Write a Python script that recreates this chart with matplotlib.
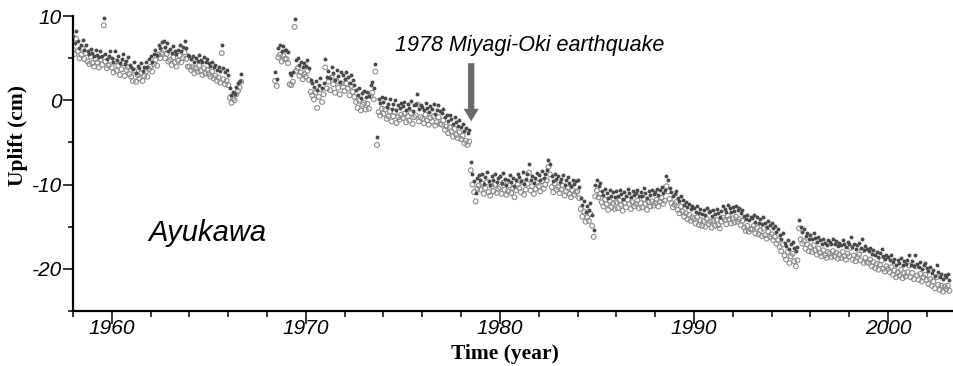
import numpy as np
import matplotlib
matplotlib.use("Agg")
import matplotlib.pyplot as plt
from matplotlib.ticker import MultipleLocator

plt.rcParams["axes.unicode_minus"] = False

# monthly uplift at Ayukawa (cm); first block starts Jan 1958, second Jun 1968
start_a = 1958.0
start_b = 1968.0 + 5 / 12

dots_a = [
    7.6, 6.8, 8.2, 7.0, 6.2, 6.5, 7.1, 6.0, 6.6, 5.8, 5.5, 6.1,
    5.6, 5.2, 6.0, 5.4, 5.1, 5.9, 5.3, 9.8, 5.5, 4.9, 5.2, 5.8,
    5.0, 4.6, 5.8, 4.8, 5.2, 4.4, 4.9, 5.5, 4.3, 4.7, 5.1, 4.2,
    4.0, 3.7, 4.6, 3.2, 4.1, 3.8, 4.4, 3.5, 3.9, 4.5, 4.0, 4.9,
    5.2, 4.6, 5.5, 6.0, 5.4, 6.6, 6.2, 6.9, 7.0, 6.3, 6.8, 5.9,
    6.1, 5.6, 6.4, 5.8, 5.5, 6.0, 6.6, 5.9, 6.3, 7.0, 6.2, 5.4,
    5.3, 4.9, 5.2, 4.6, 5.0, 4.7, 5.4, 4.8, 4.5, 5.1, 4.6, 4.9,
    4.4, 4.1, 4.6, 3.9, 4.2, 3.6, 4.0, 3.5, 6.5, 3.8, 3.3, 3.6,
    3.0, 1.4, 0.6, 1.0, 0.8, 1.6, 2.0, 2.3, 3.1,
]
rings_a = [
    6.0, 5.5, 7.3, 5.8, 5.0, 5.4, 6.1, 4.9, 5.6, 4.6, 4.3, 5.2,
    4.4, 4.0, 4.9, 4.5, 3.9, 4.8, 4.2, 8.9, 4.6, 3.8, 4.1, 4.7,
    3.9, 3.3, 4.6, 3.5, 4.1, 3.0, 3.7, 4.4, 2.9, 3.6, 3.9, 3.1,
    2.8, 2.3, 3.5, 2.2, 3.0, 2.6, 3.2, 2.3, 2.9, 3.4, 2.8, 3.7,
    4.0, 3.4, 4.3, 4.8, 4.1, 5.4, 5.0, 5.6, 5.9, 5.0, 5.5, 4.6,
    4.8, 4.2, 5.1, 4.5, 4.0, 4.7, 5.3, 4.5, 5.0, 5.7, 4.9, 4.0,
    4.0, 3.6, 3.9, 3.2, 3.8, 3.4, 4.1, 3.5, 3.0, 3.8, 3.2, 3.6,
    3.1, 2.8, 3.4, 2.6, 2.9, 2.3, 2.7, 2.1, 5.6, 2.5, 1.9, 2.3,
    1.8, 0.3, -0.3, 0.2, 0.0, 0.7, 1.1, 1.5, 2.2,
]

dots_b = [
    3.3, 2.5, 6.2, 6.6, 5.8, 6.4, 6.0,
    6.0, 5.7, 3.2, 3.0, 3.4, 9.6, 4.8, 5.0, 4.2, 4.6, 3.9, 4.4,
    4.1, 4.8, 3.8, 2.4, 2.0, 1.6, 2.3, 1.2, 1.8, 2.6, 1.4, 2.1,
    4.9, 2.8, 3.5, 2.6, 3.9, 3.2, 2.4, 3.6, 2.9, 2.2, 3.4, 3.0,
    2.5, 3.3, 2.8, 2.1, 3.0, 2.4, 1.8, 1.2, 0.6, 1.4, 0.3, 0.9,
    1.1, 0.4, 1.0, 0.5, 1.8, 2.2, 1.4, 4.3, -4.3, 0.1, -0.3, 0.4,
    -0.2, 0.3, -0.8, -0.4, 0.1, -1.0, -0.5, 0.0, -1.2, -0.6, -0.9, -0.3,
    -0.7, -0.2, -1.1, -0.5, -0.9, -0.1, -1.3, -0.6, -0.4, 0.8, -1.0, -0.6,
    -0.8, -1.2, -0.3, -0.9, -1.4, -0.7, -1.0, -0.5, -1.6, -1.1, -0.6, -1.3,
    -1.5, -1.0, -2.0, -1.7, -2.4, -1.8, -2.2, -2.8, -2.0, -2.6, -3.0, -2.3,
    -3.2, -2.8, -3.6, -3.3, -3.9, -3.5, -7.3, -8.8, -9.6, -11.0, -9.2, -8.9,
    -9.4, -8.7, -9.9, -9.1, -8.5, -9.6, -10.1, -9.0, -9.5, -8.8, -9.7, -9.2,
    -9.0, -9.8, -8.6, -9.3, -10.0, -9.5, -8.9, -9.7, -9.2, -10.2, -9.4, -8.8,
    -9.1, -9.6, -8.5, -9.9, -9.3, -8.7, -7.5, -9.4, -9.0, -9.8, -9.2, -8.6,
    -8.9, -9.5, -8.4, -9.2, -8.8, -8.3, -7.1, -7.6, -9.0, -9.6, -8.7, -9.3,
    -9.0, -9.7, -9.3, -8.9, -10.0, -9.5, -9.1, -9.8, -10.2, -9.4, -9.9, -9.6,
    -9.5, -10.3, -11.6, -12.4, -11.9, -13.2, -12.6, -13.0, -12.2, -13.6, -15.4, -10.1,
    -9.4, -10.2, -9.8, -10.8, -11.2, -10.5, -11.0, -11.6, -10.7, -11.3, -10.9, -11.5,
    -10.8, -11.4, -10.6, -11.1, -11.7, -10.9, -11.3, -10.5, -11.0, -11.5, -10.8, -11.2,
    -11.0, -10.6, -11.4, -10.9, -11.3, -10.4, -11.0, -11.6, -10.8, -11.2, -10.7, -11.1,
    -10.9, -10.5, -11.2, -10.7, -10.3, -11.0, -10.6, -9.0, -9.5, -10.4, -10.9, -11.3,
    -11.1, -10.8, -11.6, -12.0, -11.3, -11.8, -12.4, -12.1, -12.7, -12.3, -12.9, -12.5,
    -12.8, -13.2, -12.6, -13.4, -12.9, -13.5, -13.0, -13.6, -12.8, -13.3, -13.1, -13.7,
    -13.0, -13.5, -12.9, -13.4, -13.8, -13.1, -12.6, -12.9, -13.3, -12.4, -12.8, -13.2,
    -12.7, -13.1, -12.5, -13.0, -12.8, -13.4, -13.0, -13.7, -14.1, -13.6, -14.2, -13.9,
    -14.0, -13.6, -14.4, -13.8, -14.5, -14.1, -14.7, -13.9, -14.6, -15.0, -14.3, -14.8,
    -14.6, -15.2, -14.9, -15.6, -15.3, -16.0, -16.4, -15.8, -16.9, -17.3, -16.6, -17.6,
    -17.0, -16.8, -17.5, -17.9, -17.4, -14.2, -15.0, -15.6, -15.3, -16.1, -15.7, -16.4,
    -16.0, -16.5, -15.8, -16.3, -16.8, -16.2, -16.6, -17.0, -16.4, -16.9, -17.2, -16.6,
    -16.8, -17.1, -16.5, -17.0, -16.7, -17.3, -16.9, -17.2, -16.6, -17.0, -17.4, -16.8,
    -17.1, -16.2, -17.4, -17.0, -17.6, -17.2, -16.9, -17.5, -16.4, -17.8, -17.3, -17.7,
    -17.9, -17.5, -18.2, -17.8, -18.4, -18.0, -18.6, -18.1, -17.6, -18.5, -18.8, -18.3,
    -18.6, -18.9, -18.4, -19.2, -18.8, -19.5, -19.0, -19.3, -18.7, -19.6, -19.1, -19.4,
    -19.0, -18.3, -19.5, -19.1, -19.7, -18.3, -19.4, -19.8, -19.2, -20.0, -19.6, -19.3,
    -19.9, -20.3, -19.8, -20.5, -20.1, -20.8, -19.6, -20.4, -21.0, -20.6, -21.2, -20.7,
    -21.0, -20.6, -21.3,
]
rings_b = [
    2.3, 1.7, 5.1, 5.4, 4.6, 5.3, 4.9,
    4.9, 4.4, 1.9, 1.8, 2.2, 8.7, 3.5, 3.8, 2.9, 3.3, 2.5, 3.1,
    2.8, 3.5, 2.4, 1.0, 0.6, 0.1, 0.9, -0.9, 0.4, 1.3, -0.2, 0.7,
    3.9, 1.4, 2.2, 1.2, 2.7, 1.9, 0.9, 2.3, 1.5, 0.7, 2.0, 1.6,
    1.1, 2.0, 1.4, 0.6, 1.7, 1.0, 0.4, -0.2, -0.9, 0.0, -1.2, -0.5,
    -0.3, -1.1, -0.4, -1.0, 0.5, 0.9, 0.1, 3.4, -5.3, -1.4, -1.8, -1.0,
    -1.6, -1.1, -2.2, -1.9, -1.3, -2.5, -1.9, -1.4, -2.7, -2.0, -2.3, -1.7,
    -2.1, -1.6, -2.6, -1.9, -2.4, -1.5, -2.8, -2.0, -1.8, -0.5, -2.5, -2.0,
    -2.2, -2.7, -1.7, -2.4, -2.9, -2.1, -2.5, -1.9, -3.0, -2.6, -2.0, -2.8,
    -2.9, -2.4, -3.5, -3.1, -3.9, -3.2, -3.7, -4.3, -3.4, -4.1, -4.5, -3.8,
    -4.6, -4.2, -5.1, -4.8, -5.3, -4.9, -8.3, -10.0, -10.9, -12.0, -10.5, -10.1,
    -10.6, -9.9, -11.1, -10.4, -9.7, -10.9, -11.3, -10.2, -10.8, -10.0, -11.0, -10.5,
    -10.3, -11.1, -9.8, -10.6, -11.2, -10.8, -10.1, -11.0, -10.4, -11.5, -10.7, -10.0,
    -10.4, -10.9, -9.7, -11.2, -10.6, -9.9, -8.6, -10.7, -10.2, -11.1, -10.5, -9.8,
    -10.2, -10.8, -9.6, -10.5, -10.0, -9.5, -7.9, -8.8, -10.3, -10.9, -9.9, -10.6,
    -10.3, -11.0, -10.6, -10.1, -11.3, -10.8, -10.4, -11.1, -11.5, -10.7, -11.2, -10.9,
    -10.8, -11.6, -12.9, -13.8, -13.2, -14.4, -13.9, -14.3, -13.5, -14.9, -16.2, -11.4,
    -10.7, -11.5, -11.1, -12.1, -12.6, -11.8, -12.3, -13.0, -12.0, -12.7, -12.2, -12.9,
    -12.1, -12.8, -11.9, -12.4, -13.1, -12.2, -12.7, -11.8, -12.3, -12.9, -12.1, -12.6,
    -12.3, -11.9, -12.8, -12.2, -12.7, -11.7, -12.3, -13.0, -12.1, -12.6, -12.0, -12.5,
    -12.2, -11.8, -12.6, -12.0, -11.6, -12.3, -11.9, -10.2, -10.8, -11.7, -12.2, -12.7,
    -12.4, -12.1, -13.0, -13.4, -12.6, -13.2, -13.8, -13.4, -14.1, -13.6, -14.3, -13.9,
    -14.1, -14.6, -13.9, -14.8, -14.2, -14.9, -14.3, -15.0, -14.1, -14.7, -14.4, -15.1,
    -14.3, -14.9, -14.2, -14.8, -15.2, -14.4, -13.9, -14.2, -14.7, -13.7, -14.1, -14.6,
    -14.0, -14.5, -13.8, -14.4, -14.1, -14.8, -14.3, -15.1, -15.5, -14.9, -15.6, -15.3,
    -15.3, -14.9, -15.8, -15.1, -15.9, -15.4, -16.1, -15.2, -16.0, -16.4, -15.6, -16.2,
    -15.9, -16.6, -16.2, -17.0, -16.6, -17.4, -17.9, -17.1, -18.4, -18.9, -18.0, -19.3,
    -18.5, -18.2, -19.1, -19.7, -19.0, -15.2, -16.5, -17.0, -16.7, -17.6, -17.1, -17.9,
    -17.4, -18.0, -17.2, -17.8, -18.3, -17.6, -18.1, -18.5, -17.8, -18.4, -18.7, -18.0,
    -18.2, -18.6, -17.9, -18.5, -18.1, -18.8, -18.3, -18.7, -18.0, -18.5, -18.9, -18.2,
    -18.5, -17.5, -18.9, -18.4, -19.1, -18.6, -18.3, -19.0, -17.8, -19.3, -18.7, -19.2,
    -19.3, -18.9, -19.7, -19.2, -19.9, -19.4, -20.1, -19.5, -19.0, -20.0, -20.3, -19.7,
    -20.0, -20.4, -19.8, -20.7, -20.2, -21.0, -20.4, -20.8, -20.1, -21.1, -20.5, -20.9,
    -20.4, -19.6, -21.0, -20.5, -21.2, -19.7, -20.8, -21.3, -20.6, -21.5, -21.0, -20.7,
    -21.3, -21.8, -21.2, -22.0, -21.5, -22.3, -21.0, -21.9, -22.5, -22.0, -22.7, -22.1,
    -22.4, -22.0, -22.6,
]

quake_year = 1978.52
station = "Ayukawa"
quake_label = "1978 Miyagi-Oki earthquake"


def months(start, vals):
    return start + np.arange(len(vals)) / 12


fig = plt.figure(figsize=(9.54, 3.66), dpi=100)
ax = fig.add_axes([73 / 954, 1 - 311 / 366, 880 / 954, 295 / 366])

sans = "Liberation Sans"
serif = "Liberation Serif"
ring_style = dict(s=12, facecolors="none", edgecolors="#8c8c8c", linewidths=0.8, zorder=2)
dot_style = dict(s=8, color="#4a4a4a", linewidths=0, zorder=3)

for start, dots, rings in [(start_a, dots_a, rings_a), (start_b, dots_b, rings_b)]:
    ax.scatter(months(start, rings), rings, **ring_style)
    ax.scatter(months(start, dots), dots, **dot_style)

ax.set_xlim(1958, 2003.35)
ax.set_ylim(-25, 10)

for side in ["top", "right"]:
    ax.spines[side].set_visible(False)
for side in ["left", "bottom"]:
    ax.spines[side].set_linewidth(1.6)

ax.xaxis.set_major_locator(MultipleLocator(10))
ax.xaxis.set_minor_locator(MultipleLocator(2))
ax.yaxis.set_major_locator(MultipleLocator(10))
ax.yaxis.set_minor_locator(MultipleLocator(5))
ax.tick_params(axis="x", which="major", length=9, width=1.1, pad=-3)
ax.tick_params(axis="x", which="minor", length=4, width=1.1)
ax.tick_params(axis="y", which="major", length=7, width=1.1, pad=1)
ax.tick_params(axis="y", which="minor", length=3.5, width=1.1)
for lab in ax.get_xticklabels() + ax.get_yticklabels():
    lab.set_fontfamily(sans)
    lab.set_fontstyle("italic")
    lab.set_fontsize(15)

fig.text(18 / 954, 1 - 136 / 366, "Uplift (cm)", rotation=90, ha="center", va="center",
         family=serif, weight="bold", fontsize=15.5)
fig.text(505 / 954, 1 - 354 / 366, "Time (year)", ha="center", va="center",
         family=serif, weight="bold", fontsize=15.5)

ax.text(1961.87, -16.7, station, family=sans, style="italic", fontsize=21, va="baseline")
ax.text(1981.55, 5.9, quake_label, family=sans, style="italic", fontsize=15.5,
        ha="center", va="baseline")
ax.annotate("", xy=(quake_year, -2.5), xytext=(quake_year, 4.4),
            arrowprops=dict(arrowstyle="simple,head_width=1.1,head_length=0.9,tail_width=0.45",
                            color="#6a6a6a", lw=0, shrinkA=0, shrinkB=0))

fig.savefig("out.png", dpi=100)
